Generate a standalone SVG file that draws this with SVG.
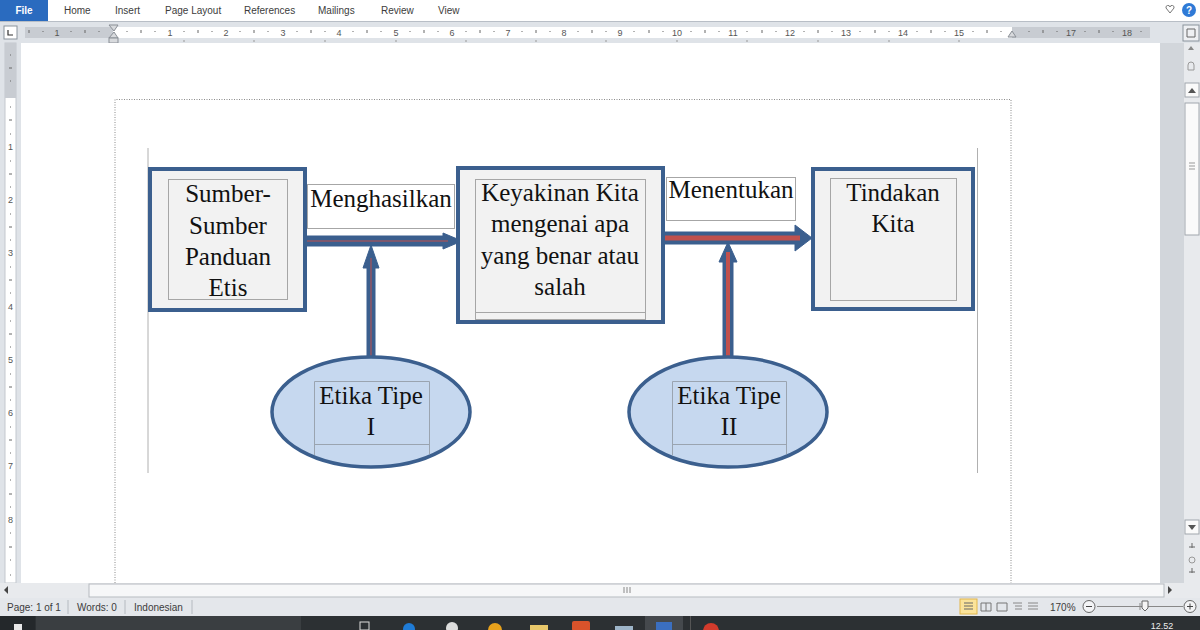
<svg xmlns="http://www.w3.org/2000/svg" width="1200" height="630" viewBox="0 0 1200 630">
<defs>
<style>
.ui{font-family:"Liberation Sans",Arial,sans-serif;font-size:10px;fill:#3c3c3c}
.rn{font-family:"Liberation Sans",Arial,sans-serif;font-size:9px;fill:#555;text-anchor:middle}
.dt{font-family:"Liberation Serif","Times New Roman",Tinos,"DejaVu Serif",serif;font-size:25px;fill:#111;text-anchor:middle}
.outer{fill:#f2f2f2;stroke:#3b5f8e;stroke-width:4}
.inner{fill:#f2f2f2;stroke:#a6a6a6;stroke-width:1}
.lbl{fill:#fff;stroke:#a6a6a6;stroke-width:1}
.ell{fill:#c6d8ef;stroke:#3b5f8e;stroke-width:3.5}
.einner{fill:none;stroke:#9aa4b0;stroke-width:1}
.arr{fill:#3b5f8e;stroke:#3b5f8e;stroke-width:1}
.red{stroke:#c0504d;fill:none}
</style>
<clipPath id="ce1"><ellipse cx="371" cy="412" rx="97" ry="53"/></clipPath>
<clipPath id="ce2"><ellipse cx="728" cy="412" rx="97" ry="53"/></clipPath>
</defs>
<!-- window background -->
<rect x="0" y="0" width="1200" height="630" fill="#ffffff"/>
<!-- ribbon tabs -->
<g id="ribbon">
<rect x="0" y="0" width="1200" height="21" fill="#ffffff"/>
<rect x="0" y="0" width="48" height="21" fill="#2a6bbf"/>
<text x="24" y="14" text-anchor="middle" style="font-family:'Liberation Sans',Arial,sans-serif;font-size:10px;fill:#fff;font-weight:bold">File</text>
<text class="ui" x="64" y="14">Home</text>
<text class="ui" x="115" y="14">Insert</text>
<text class="ui" x="165" y="14">Page Layout</text>
<text class="ui" x="244" y="14">References</text>
<text class="ui" x="318" y="14">Mailings</text>
<text class="ui" x="381" y="14">Review</text>
<text class="ui" x="438" y="14">View</text>
<path d="M1166 8 l4 5 l4 -5 a2 2 0 0 0 -4 -1 a2 2 0 0 0 -4 1z" fill="none" stroke="#777" stroke-width="1"/>
<circle cx="1189" cy="10" r="7" fill="#2f7ad6"/>
<text x="1189" y="14" text-anchor="middle" style="font-family:'Liberation Sans',Arial,sans-serif;font-size:10px;fill:#fff;font-weight:bold">?</text>
</g>
<!-- horizontal ruler -->
<g id="hruler">
<rect x="0" y="21" width="1200" height="22" fill="#dfe3e8"/>
<line x1="0" y1="21.5" x2="1200" y2="21.5" stroke="#b8bec6"/>
<rect x="4" y="26" width="13" height="13" fill="#fff" stroke="#8a939c"/>
<path d="M8 30 v5 h5" fill="none" stroke="#333" stroke-width="1.2"/>
<rect x="25" y="27" width="1125" height="11" fill="#c8ccd2"/>
<rect x="113" y="27" width="899" height="11" fill="#ffffff"/>
<path d="M109 25 h9 l-4 6z M109 38 h9 l-4 -6z" fill="#d8dadd" stroke="#8a8f96"/>
<rect x="109" y="38" width="9" height="5" fill="#d8dadd" stroke="#8a8f96"/>
<path d="M1008 37 l4 -6 l4 6z" fill="#d8dadd" stroke="#8a8f96"/>
<g class="rn">
<text x="57" y="36">1</text><text x="170" y="36">1</text><text x="226" y="36">2</text><text x="283" y="36">3</text><text x="339" y="36">4</text><text x="396" y="36">5</text><text x="452" y="36">6</text><text x="508" y="36">7</text><text x="564" y="36">8</text><text x="620" y="36">9</text><text x="677" y="36">10</text><text x="733" y="36">11</text><text x="790" y="36">12</text><text x="846" y="36">13</text><text x="903" y="36">14</text><text x="959" y="36">15</text><text x="1071" y="36">17</text><text x="1127" y="36">18</text>
</g>
<g stroke="#666" stroke-width="1">
<path d="M29 30v3M43 31v1M71 31v1M85 30v3M99 31v1M127 31v1M141 30v3M155 31v1M184 31v1M198 30v3M212 31v1M240 31v1M254 30v3M268 31v1M297 31v1M311 30v3M325 31v1M353 31v1M367 30v3M381 31v1M410 31v1M424 30v3M438 31v1M466 31v1M480 30v3M494 31v1M522 31v1M536 30v3M550 31v1M578 31v1M592 30v3M606 31v1M634 31v1M649 30v3M663 31v1M691 31v1M705 30v3M719 31v1M747 31v1M762 30v3M776 31v1M804 31v1M818 30v3M832 31v1M860 31v1M875 30v3M889 31v1M917 31v1M931 30v3M945 31v1M973 31v1M987 30v3M1001 31v1M1029 31v1M1043 30v3M1057 31v1M1085 31v1M1099 30v3M1113 31v1M1141 31v1"/>
</g>
<g stroke="#999" stroke-width="1">
<path d="M184 40v2M254 40v2M325 40v2M396 40v2M466 40v2M536 40v2M606 40v2M677 40v2M747 40v2M818 40v2M889 40v2M959 40v2"/>
</g>
<rect x="1183" y="25" width="16" height="16" fill="#eef0f3" stroke="#8a939c"/>
<path d="M1187 29 h8 v8 h-8z" fill="none" stroke="#666"/>
</g>
<!-- vertical ruler -->
<g id="vruler">
<rect x="0" y="43" width="21" height="540" fill="#dfe3e8"/>
<rect x="5" y="43" width="11" height="540" fill="#ffffff" stroke="#c3c8ce"/>
<rect x="5" y="43" width="11" height="55" fill="#c8ccd2"/>
<g class="rn">
<text x="10.5" y="150">1</text><text x="10.5" y="203">2</text><text x="10.5" y="256">3</text><text x="10.5" y="310">4</text><text x="10.5" y="363">5</text><text x="10.5" y="416">6</text><text x="10.5" y="469">7</text><text x="10.5" y="523">8</text>
</g>
<g stroke="#666" stroke-width="1">
<path d="M10 55h1M9 68h3M10 81h1M10 107h1M9 120h3M10 134h1M10 161h1M9 174h3M10 187h1M10 214h1M9 227h3M10 240h1M10 267h1M9 280h3M10 293h1M10 321h1M9 334h3M10 347h1M10 374h1M9 387h3M10 400h1M10 427h1M9 440h3M10 453h1M10 480h1M9 494h3M10 507h1M10 533h1M9 547h3M10 560h1M10 575h1"/>
</g>
</g>
<!-- document area and right gutter -->
<rect x="21" y="43" width="1139" height="540" fill="#ffffff"/>
<rect x="1160" y="43" width="24" height="540" fill="#d2d6db"/>
<!-- vertical scrollbar -->
<g id="vscroll">
<rect x="1184" y="43" width="16" height="540" fill="#e8eaed"/>
<path d="M1188 50 l3 -4 l3 4z" fill="#888"/>
<path d="M1188 65 a3 3 0 0 1 6 0 v5 h-6z" fill="none" stroke="#999"/>
<rect x="1185" y="83" width="14" height="14" fill="#fafafa" stroke="#a0a6ad"/>
<path d="M1188 93 l4 -5 l4 5z" fill="#555"/>
<rect x="1185" y="103" width="14" height="132" fill="#fafafa" stroke="#a0a6ad"/>
<path d="M1189 163h6M1189 166h6M1189 169h6" stroke="#999"/>
<rect x="1185" y="520" width="14" height="14" fill="#fafafa" stroke="#a0a6ad"/>
<path d="M1188 525 l4 5 l4 -5z" fill="#555"/>
<path d="M1189 547h6M1192 543v5" stroke="#666"/>
<circle cx="1192" cy="560" r="3" fill="none" stroke="#999"/>
<path d="M1189 572h6M1192 568v5" stroke="#666"/>
</g>
<!-- text boundary dotted -->
<path d="M115 583 V99.5 H1011 V583" fill="none" stroke="#8a8a8a" stroke-width="1" stroke-dasharray="1,1.5"/>
<!-- canvas edges -->
<line x1="148" y1="148" x2="148" y2="473" stroke="#b0b0b0" stroke-width="1"/>
<line x1="977.5" y1="148" x2="977.5" y2="473" stroke="#b0b0b0" stroke-width="1"/>

<!-- connectors -->
<g id="connectors">
<path class="arr" d="M305 236 H443 V233 L462 241 L443 249 V246 H305 Z"/>
<line class="red" x1="306" y1="241" x2="448" y2="241" stroke-width="1.2"/>
<path class="arr" d="M663 232 H795 V225 L812 238 L795 251 V244 H663 Z"/>
<line class="red" x1="664" y1="238" x2="800" y2="238" stroke-width="5"/>
<path class="arr" d="M367 357 V268 H363 L371 245 L379 268 H375 V357 Z"/>
<line class="red" x1="371" y1="356" x2="371" y2="258" stroke-width="1"/>
<path class="arr" d="M723 357 V262 H719 L728 242 L737 262 H733 V357 Z"/>
<line class="red" x1="728" y1="356" x2="728" y2="252" stroke-width="4"/>
</g>

<!-- label boxes -->
<g id="lbl-menghasilkan">
<rect class="lbl" x="307.5" y="184.5" width="147" height="44"/>
<text class="dt" x="381" y="207">Menghasilkan</text>
</g>
<g id="lbl-menentukan">
<rect class="lbl" x="666.5" y="177.5" width="129" height="43"/>
<text class="dt" x="731" y="198">Menentukan</text>
</g>

<!-- nodes -->
<g id="node-sumber">
<rect class="outer" x="150" y="169" width="155" height="141"/>
<rect class="inner" x="168.5" y="179.5" width="119" height="120"/>
<text class="dt" x="228" y="202">Sumber-</text>
<text class="dt" x="228" y="234">Sumber</text>
<text class="dt" x="228" y="265">Panduan</text>
<text class="dt" x="228" y="296">Etis</text>
</g>
<g id="node-keyakinan">
<rect class="outer" x="458" y="168" width="205" height="154"/>
<rect class="inner" x="475.5" y="179.5" width="170" height="140"/>
<line x1="475.5" y1="312.5" x2="645.5" y2="312.5" stroke="#a6a6a6"/>
<rect x="458" y="320" width="205" height="2" fill="#3b5f8e"/>
<text class="dt" x="560" y="201">Keyakinan Kita</text>
<text class="dt" x="560" y="232">mengenai apa</text>
<text class="dt" x="560" y="264">yang benar atau</text>
<text class="dt" x="560" y="295">salah</text>
</g>
<g id="node-tindakan">
<rect class="outer" x="813" y="169" width="160" height="140"/>
<rect class="inner" x="830.5" y="178.5" width="126" height="122"/>
<text class="dt" x="893" y="201">Tindakan</text>
<text class="dt" x="893" y="232">Kita</text>
</g>
<g id="node-etika1">
<ellipse class="ell" cx="371" cy="412" rx="99" ry="55"/>
<path class="einner" clip-path="url(#ce1)" d="M314.5 470 V381.5 H429.5 V470 M314.5 444.5 H429.5"/>
<text class="dt" x="371" y="404">Etika Tipe</text>
<text class="dt" x="371" y="435">I</text>
</g>
<g id="node-etika2">
<ellipse class="ell" cx="728" cy="412" rx="99" ry="55"/>
<path class="einner" clip-path="url(#ce2)" d="M672.5 470 V381.5 H786.5 V470 M672.5 444.5 H786.5"/>
<text class="dt" x="729" y="404">Etika Tipe</text>
<text class="dt" x="729" y="435">II</text>
</g>

<!-- horizontal scrollbar -->
<g id="hscroll">
<rect x="0" y="583" width="1200" height="15" fill="#e8eaed"/>
<path d="M8 586 l-4 4 l4 4z" fill="#444"/>
<rect x="89" y="584" width="1075" height="13" fill="#f6f7f8" stroke="#b5bac0"/>
<path d="M624 587v6M627 587v6M630 587v6" stroke="#888"/>
<path d="M1168 586 l4 4 l-4 4z" fill="#444"/>
</g>
<!-- status bar -->
<g id="status">
<rect x="0" y="598" width="1200" height="18" fill="#e4e7eb"/>
<text class="ui" x="7" y="611">Page: 1 of 1</text>
<line x1="68" y1="600" x2="68" y2="614" stroke="#b5bac0"/>
<text class="ui" x="77" y="611">Words: 0</text>
<line x1="125" y1="600" x2="125" y2="614" stroke="#b5bac0"/>
<text class="ui" x="134" y="611">Indonesian</text>
<line x1="192" y1="600" x2="192" y2="614" stroke="#b5bac0"/>
<rect x="960" y="599" width="17" height="15" fill="#fbe39a" stroke="#e1b64a"/>
<path d="M964 603h9M964 606h9M964 609h9" stroke="#666"/>
<path d="M981 603h10v8h-10z M986 603v8" fill="none" stroke="#777"/>
<path d="M997 603h10v8h-10z" fill="none" stroke="#777"/>
<path d="M1013 603h9M1015 606h7M1015 609h7" stroke="#888"/>
<path d="M1028 603h10M1028 606h10M1028 609h10" stroke="#888"/>
<text class="ui" x="1050" y="611">170%</text>
<circle cx="1089" cy="606.5" r="6" fill="#f3f4f6" stroke="#666"/>
<path d="M1086 606.5h6" stroke="#444"/>
<line x1="1097" y1="606.5" x2="1183" y2="606.5" stroke="#888"/>
<line x1="1140" y1="603" x2="1140" y2="610" stroke="#888"/>
<path d="M1142 601h6v7l-3 3l-3 -3z" fill="#f5f5f5" stroke="#666"/>
<circle cx="1190" cy="606.5" r="6" fill="#f3f4f6" stroke="#666"/>
<path d="M1187 606.5h6M1190 603.5v6" stroke="#444"/>
</g>
<!-- taskbar -->
<g id="taskbar">
<rect x="0" y="616" width="1200" height="14" fill="#2c3033"/>
<rect x="0" y="616" width="35" height="14" fill="#24282b"/>
<rect x="14" y="624" width="8" height="6" fill="#e8e8e8"/>
<rect x="36" y="616" width="265" height="14" fill="#3a3e41"/>
<rect x="360" y="622" width="9" height="8" fill="none" stroke="#ddd"/>
<circle cx="409" cy="629" r="6" fill="#1f7bd6"/>
<circle cx="452" cy="628" r="6" fill="#dddddd"/>
<circle cx="495" cy="630" r="7" fill="#e9a21c"/>
<rect x="530" y="625" width="18" height="6" fill="#e8c76a"/>
<rect x="572" y="621" width="18" height="10" rx="2" fill="#d9532b"/>
<rect x="615" y="626" width="18" height="5" fill="#9db4c8"/>
<rect x="645" y="616" width="38" height="14" fill="#45494d"/>
<rect x="656" y="622" width="16" height="9" fill="#3b6fc0"/>
<rect x="690" y="616" width="1" height="14" fill="#555"/>
<circle cx="711" cy="631" r="8" fill="#d33b2c"/>
<text x="1162" y="629" text-anchor="middle" style="font-family:'Liberation Sans',Arial,sans-serif;font-size:9px;fill:#eee">12.52</text>
</g>
</svg>
